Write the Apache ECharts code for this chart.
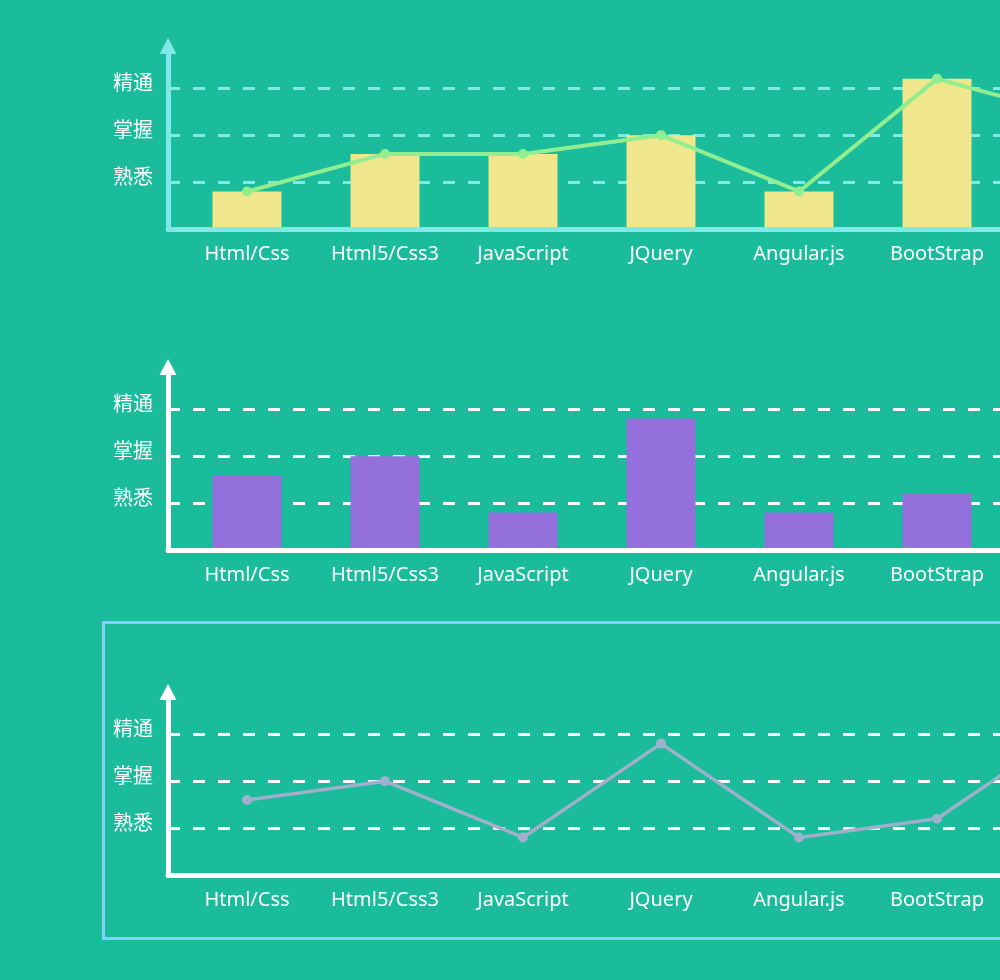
<!DOCTYPE html>
<html>
<head>
<meta charset="utf-8">
<script src="https://cdn.jsdelivr.net/npm/echarts@6/dist/echarts.min.js"></script>
<style>
  html, body { margin: 0; padding: 0; width: 1000px; height: 980px; overflow: hidden; background: #1abc9c; }
  .chart { position: absolute; left: 0; width: 1200px; }
  #box { position: absolute; left: 102px; top: 621px; width: 1200px; height: 319px; box-sizing: border-box; border: 3px solid #87cefa; pointer-events: none; }
</style>
</head>
<body>
<div id="c1" class="chart" style="top:0px;height:300px;"></div>
<div id="c2" class="chart" style="top:300px;height:310px;"></div>
<div id="c3" class="chart" style="top:624px;height:310px;"></div>
<div id="box"></div>
<script>
// ---- data ----
const categories = ['Html/Css', 'Html5/Css3', 'JavaScript', 'JQuery', 'Angular.js', 'BootStrap', 'Vue.js'];
const levelLabels = ['', '熟悉', '掌握', '精通'];
const skillBar1 = [0.8, 1.6, 1.6, 2.0, 0.8, 3.2, 2.4];
const skillLine1 = [0.8, 1.6, 1.6, 2.0, 0.8, 3.2, 2.4];
const skillBar2 = [1.6, 2.0, 0.8, 2.8, 0.8, 1.2, 3.2];
const skillLine3 = [1.6, 2.0, 0.8, 2.8, 0.8, 1.2, 3.2];
const yMax = 3.9;

const labelFont = "'Noto Sans', 'Noto Sans CJK SC', sans-serif";

function makeOption(gridTop, axisColor, series) {
  const gridH = 183;
  return {
    animation: false,
    backgroundColor: 'transparent',
    grid: [
      { left: 168, top: gridTop, width: 977, height: gridH },
      { left: 178, top: gridTop, width: 966, height: gridH }
    ],
    xAxis: [
      {
        gridIndex: 0, type: 'category', data: categories, z: 3,
        axisLine: { show: true, lineStyle: { color: axisColor, width: 5 } },
        axisTick: { show: false }, axisLabel: { show: false }, splitLine: { show: false }
      },
      {
        gridIndex: 1, type: 'category', data: categories,
        axisLine: { show: false }, axisTick: { show: false }, splitLine: { show: false },
        axisLabel: { show: true, interval: 0, color: '#ffffff', fontSize: 20, fontFamily: labelFont, margin: 15 }
      }
    ],
    yAxis: [
      {
        gridIndex: 0, type: 'value', min: 0, max: yMax, interval: 1,
        axisLine: { show: true, symbol: ['none', 'triangle'], symbolSize: [17, 16], lineStyle: { color: axisColor, width: 5 } },
        axisTick: { show: false },
        axisLabel: {
          show: true, color: '#ffffff', fontSize: 20, fontFamily: "'Noto Sans CJK SC', sans-serif", margin: 15,
          verticalAlign: 'bottom', lineHeight: 12,
          formatter: function (v) { return levelLabels[Math.round(v)] && Math.abs(v - Math.round(v)) < 1e-6 ? levelLabels[Math.round(v)] : ''; }
        },
        splitLine: {
          show: true,
          lineStyle: { color: ['transparent', axisColor, axisColor, axisColor, 'transparent'], type: [12, 13], width: 3 }
        }
      },
      {
        gridIndex: 1, type: 'value', min: 0, max: yMax, interval: 1, show: false,
        splitLine: { show: false }
      }
    ],
    series: series
  };
}

const c1 = echarts.init(document.getElementById('c1'));
c1.setOption(makeOption(46, '#80e8e6', [
  { type: 'bar', xAxisIndex: 1, yAxisIndex: 1, data: skillBar1, barWidth: '50%', itemStyle: { color: '#f0e68c' }, z: 2 },
  { type: 'line', xAxisIndex: 1, yAxisIndex: 1, data: skillLine1, symbol: 'circle', symbolSize: 10,
    lineStyle: { color: '#90ee90', width: 4 }, itemStyle: { color: '#90ee90' }, z: 4 }
]));

const c2 = echarts.init(document.getElementById('c2'));
c2.setOption(makeOption(67, '#ffffff', [
  { type: 'bar', xAxisIndex: 1, yAxisIndex: 1, data: skillBar2, barWidth: '50%', itemStyle: { color: '#9370db' }, z: 2 }
]));

const c3 = echarts.init(document.getElementById('c3'));
c3.setOption(makeOption(68, '#ffffff', [
  { type: 'line', xAxisIndex: 1, yAxisIndex: 1, data: skillLine3, symbol: 'circle', symbolSize: 10,
    lineStyle: { color: '#9eb0cc', width: 3.5 }, itemStyle: { color: '#9eb0cc' }, z: 4 }
]));
</script>
</body>
</html>
